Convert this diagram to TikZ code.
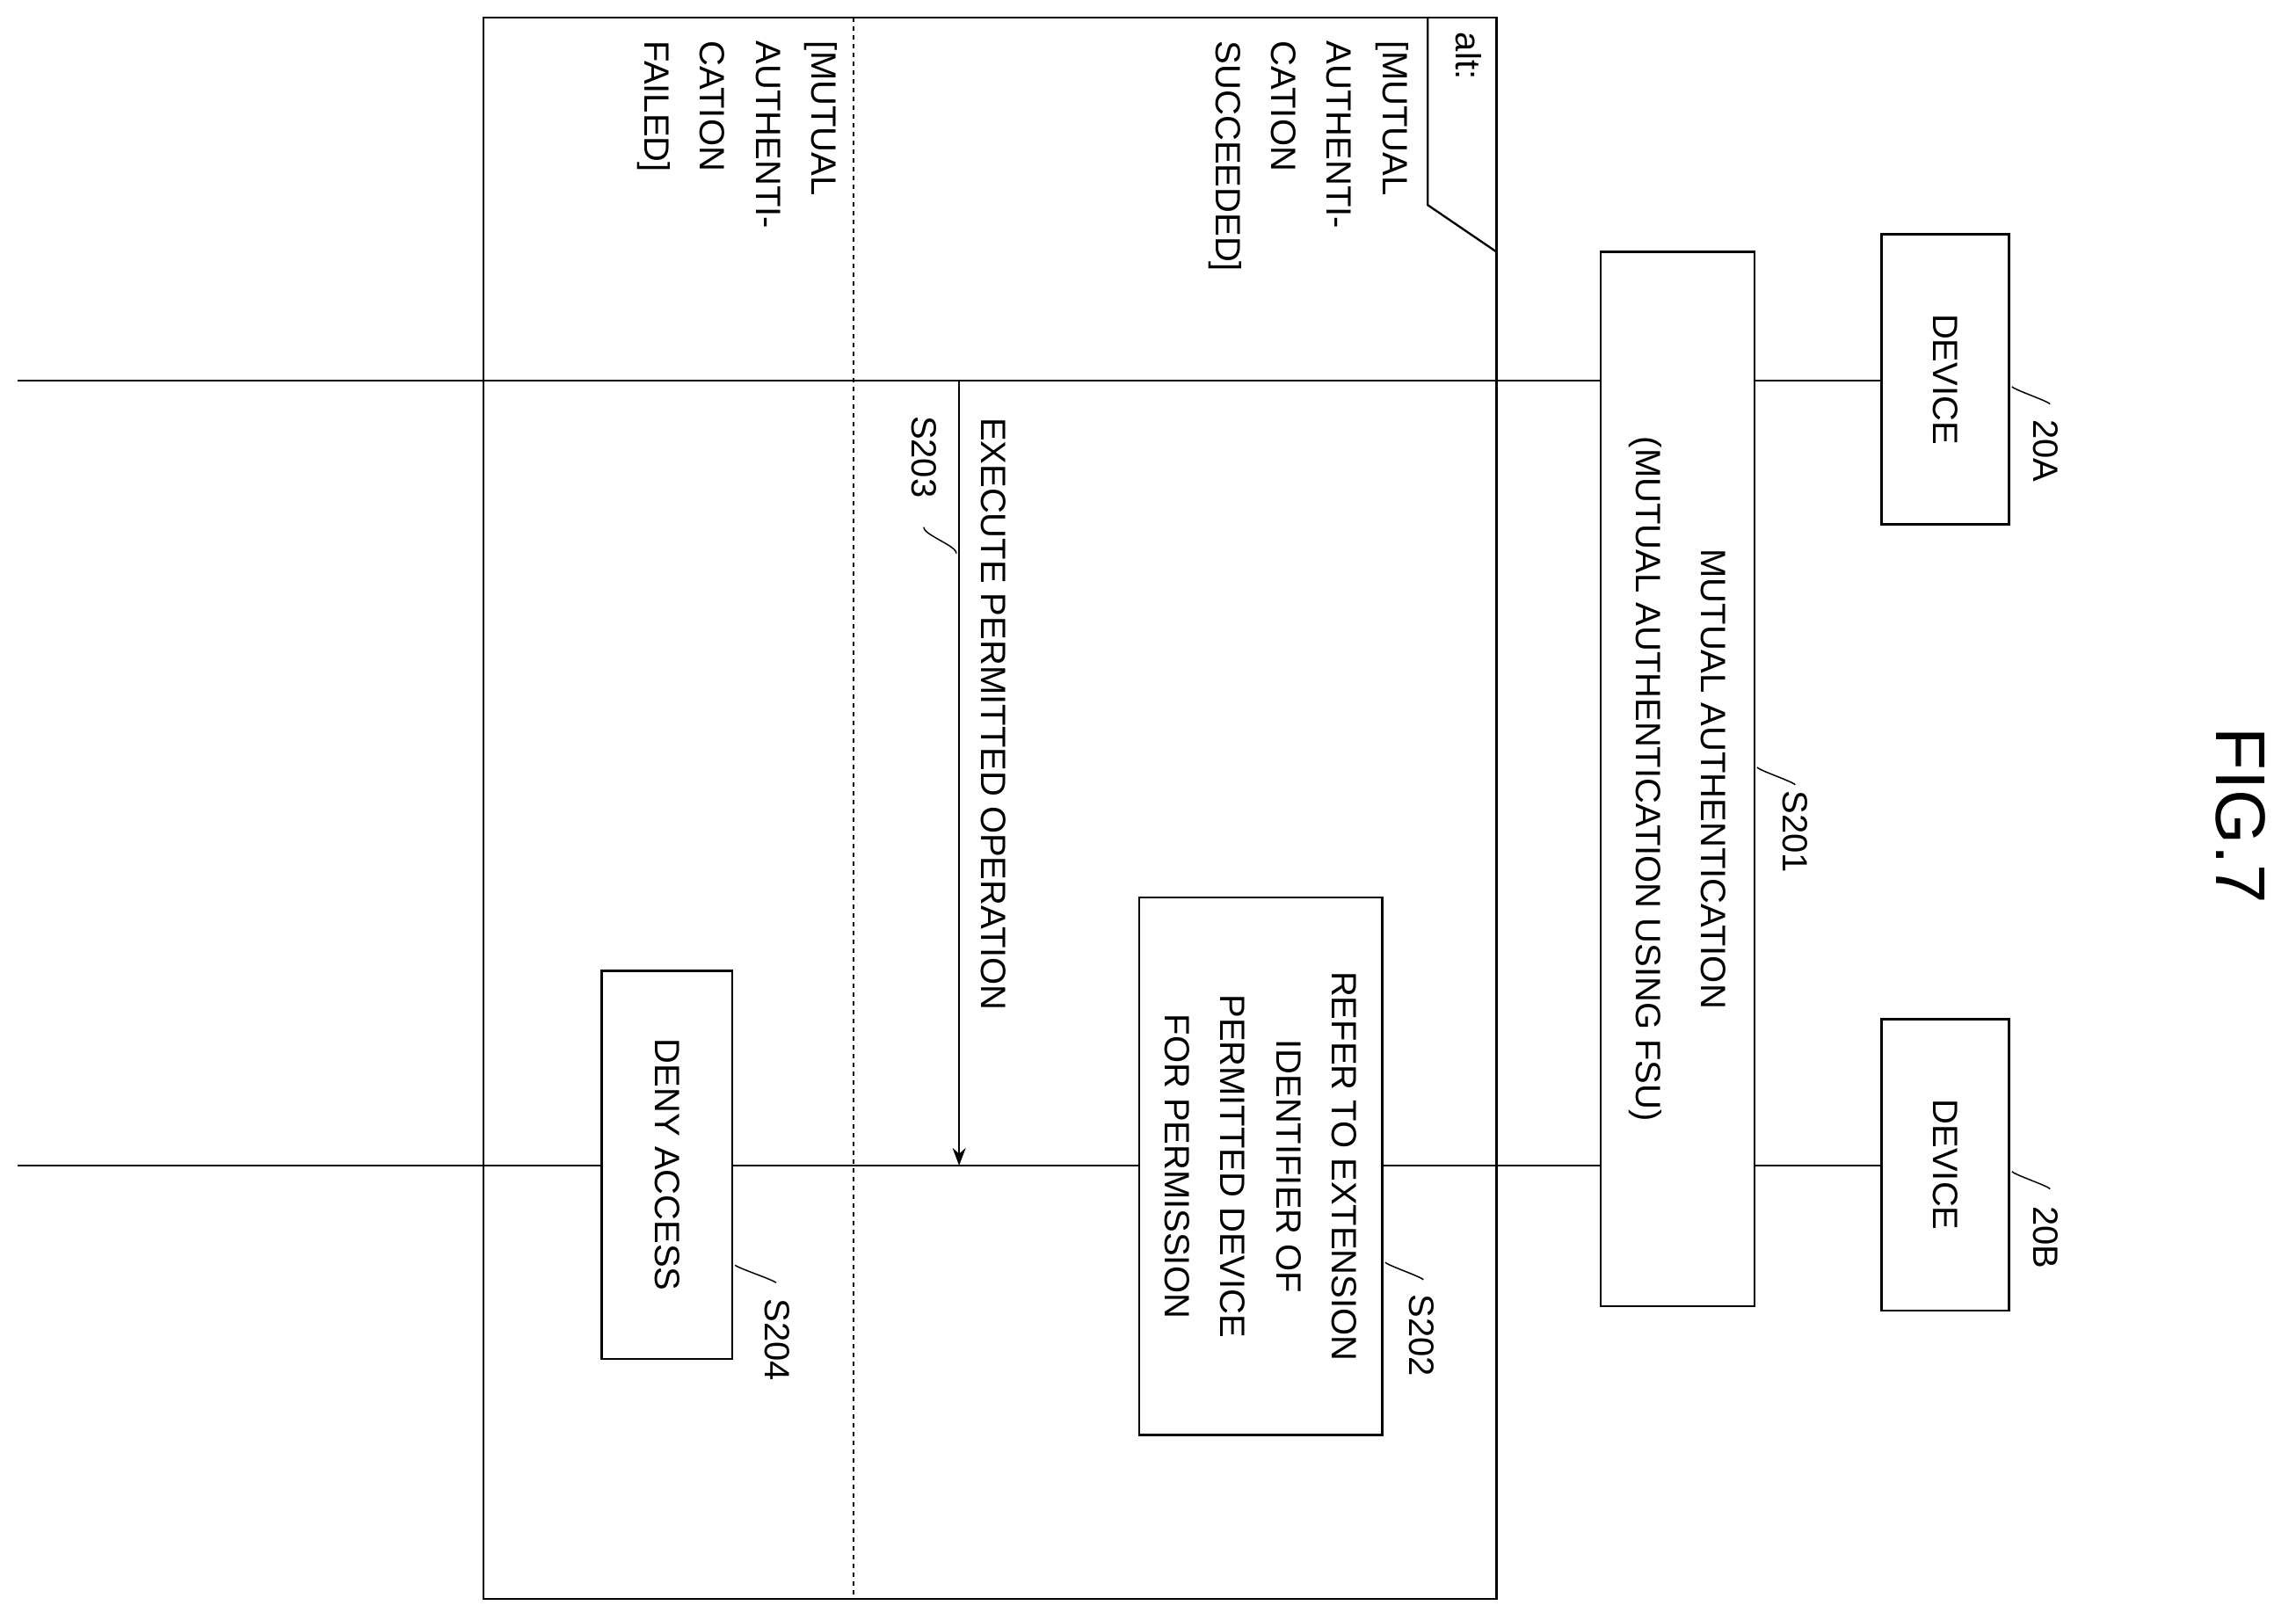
\documentclass[tikz,border=0pt]{standalone}
\usepackage{fontspec}
\setmainfont{Liberation Sans}
\usetikzlibrary{arrows.meta,calc}
\begin{document}
\begin{tikzpicture}[x=1pt,y=-1pt,
  every node/.style={font=\fontsize{24}{38}\selectfont},
  box/.style={draw,line width=1.4pt,fill=white,rotate=-90,align=center,inner sep=0pt},
  lbl/.style={rotate=-90,inner sep=1pt},
  sq/.style={line width=0.9pt},
  line/.style={line width=1.4pt}]
\useasboundingbox (0,0) rectangle (1568,1106);
\node[rotate=-90,font=\fontsize{48}{54}\selectfont] (fig) at (1530,557) {FIG.7};
% lifelines
\coordinate (a0) at (12,260); \coordinate (aE) at (1285,260);
\coordinate (b0) at (12,796); \coordinate (bE) at (1285,796);
\draw[line] (a0) -- (aE);
\draw[line] (b0) -- (bE);
% alt frame
\coordinate (f1) at (330,12); \coordinate (f2) at (1022,1092);
\draw[line] (f1) rectangle (f2);
\coordinate (t1) at (975,12); \coordinate (t2) at (975,140); \coordinate (t3) at (1022,172);
\draw[line] (t1) -- (t2) -- (t3);
\node[rotate=-90,anchor=north west,inner sep=0pt] (alt) at (1012,22) {alt:};
\coordinate (d1) at (583,12); \coordinate (d2) at (583,1092);
\draw[line,dashed] (d1) -- (d2);
\node[rotate=-90,anchor=north west,align=left,inner sep=0pt] (g1) at (962,28) {[MUTUAL\\AUTHENTI-\\CATION\\SUCCEEDED]};
\node[rotate=-90,anchor=north west,align=left,inner sep=0pt] (g2) at (572,28) {[MUTUAL\\AUTHENTI-\\CATION\\FAILED]};
% boxes
\node[box,minimum width=198,minimum height=87] (devA) at (1328.5,259) {DEVICE};
\node[box,minimum width=199,minimum height=87] (devB) at (1328.5,795.5) {DEVICE};
\node[box,minimum width=720,minimum height=105,font=\fontsize{24}{44}\selectfont] (s201) at (1145.5,532) {MUTUAL AUTHENTICATION\\(MUTUAL AUTHENTICATION USING FSU)};
\node[box,minimum width=367,minimum height=166] (s202) at (861,796.5) {REFER TO EXTENSION\\IDENTIFIER OF\\PERMITTED DEVICE\\FOR PERMISSION};
\node[box,minimum width=265,minimum height=89] (s204) at (455.5,795.5) {DENY ACCESS};
% message
\coordinate (m1) at (655,260); \coordinate (m2) at (655,796);
\draw[line,-{Stealth[length=12pt,width=9pt]}] (m1) -- (m2);
\node[rotate=-90,anchor=south west,inner sep=2pt] (msg) at (668,283) {EXECUTE PERMITTED OPERATION};
% labels
\node[lbl] (l20a) at (1397,308) {20A};
\node[lbl] (l20b) at (1397,845) {20B};
\node[lbl] (l201) at (1226,568) {S201};
\node[lbl] (l202) at (971,912) {S202};
\node[lbl] (l203) at (631,312) {S203};
\node[lbl] (l204) at (531,915) {S204};
\coordinate (q1) at (1374,264); \coordinate (q2) at (1400,276);
\coordinate (q3) at (1374,800); \coordinate (q4) at (1400,812);
\coordinate (q5) at (1200,524); \coordinate (q6) at (1226,536);
\coordinate (q7) at (946,862); \coordinate (q8) at (972,874);
\coordinate (q9) at (631,360); \coordinate (q10) at (653,378);
\coordinate (q11) at (502,864); \coordinate (q12) at (530,876);
\foreach \a/\b in {q1/q2,q3/q4,q5/q6,q7/q8,q9/q10,q11/q12}
  \draw[sq] (\a) .. controls ($(\a)!0.5!(\b)+(-12,-4)$) and ($(\a)!0.5!(\b)+(12,4)$) .. (\b);
\end{tikzpicture}
\end{document}
